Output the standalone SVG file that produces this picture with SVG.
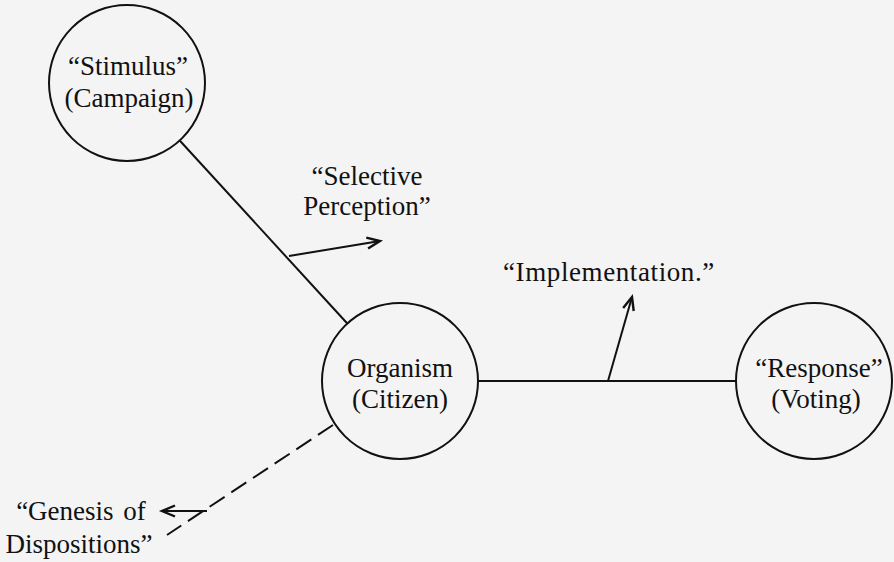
<svg xmlns="http://www.w3.org/2000/svg" width="894" height="562" viewBox="0 0 894 562">
<style>
.bg{fill:#f4f4f4}
.node circle{fill:none;stroke:#111;stroke-width:2}
.t{font-size:27px;fill:#111}
.mid{text-anchor:middle}
.conn line{stroke:#111;stroke-width:2;fill:none}
.dash{stroke-dasharray:18 8}
</style>
<defs>
<marker id="arr" markerUnits="userSpaceOnUse" markerWidth="20" markerHeight="20" viewBox="-15 -10 20 20" refX="0" refY="0" orient="auto">
<path d="M-13,-5.5 L0,0 L-13,5.5" fill="none" stroke="#111" stroke-width="2.4" stroke-linejoin="miter"/>
</marker>
</defs>
<rect class="bg" x="0" y="0" width="894" height="562"/>
<g id="connectors" class="conn">
<line x1="179.7" y1="140.5" x2="347.3" y2="323.5"/>
<line x1="478" y1="381" x2="736" y2="381"/>
<line class="dash" x1="333" y1="425" x2="167" y2="535"/>
<line x1="289" y1="256" x2="380" y2="241" marker-end="url(#arr)"/>
<line x1="608" y1="381" x2="632" y2="297" marker-end="url(#arr)"/>
<line x1="207" y1="511" x2="162" y2="511" marker-end="url(#arr)"/>
</g>
<g font-family="'Liberation Serif', 'Times New Roman', 'DejaVu Serif', serif">
<g id="stimulus" class="node">
<circle cx="127" cy="83" r="78"/>
<text class="t mid" x="128" y="75">“Stimulus”</text>
<text class="t mid" x="129" y="107">(Campaign)</text>
</g>
<g id="organism" class="node">
<circle cx="400" cy="381" r="78"/>
<text class="t mid" x="400" y="377">Organism</text>
<text class="t mid" x="400" y="408">(Citizen)</text>
</g>
<g id="response" class="node">
<circle cx="814" cy="381" r="78"/>
<text class="t mid" x="819" y="377">“Response”</text>
<text class="t mid" x="816" y="408">(Voting)</text>
</g>
<g id="label-selective">
<text class="t mid" x="367" y="185">“Selective</text>
<text class="t mid" x="367" y="215">Perception”</text>
</g>
<g id="label-implementation">
<text class="t" x="503" y="281" letter-spacing="0.6">“Implementation.”</text>
</g>
<g id="label-genesis">
<text class="t mid" x="81" y="520" word-spacing="3">“Genesis of</text>
<text class="t mid" x="79" y="553">Dispositions”</text>
</g>
</g>
</svg>
